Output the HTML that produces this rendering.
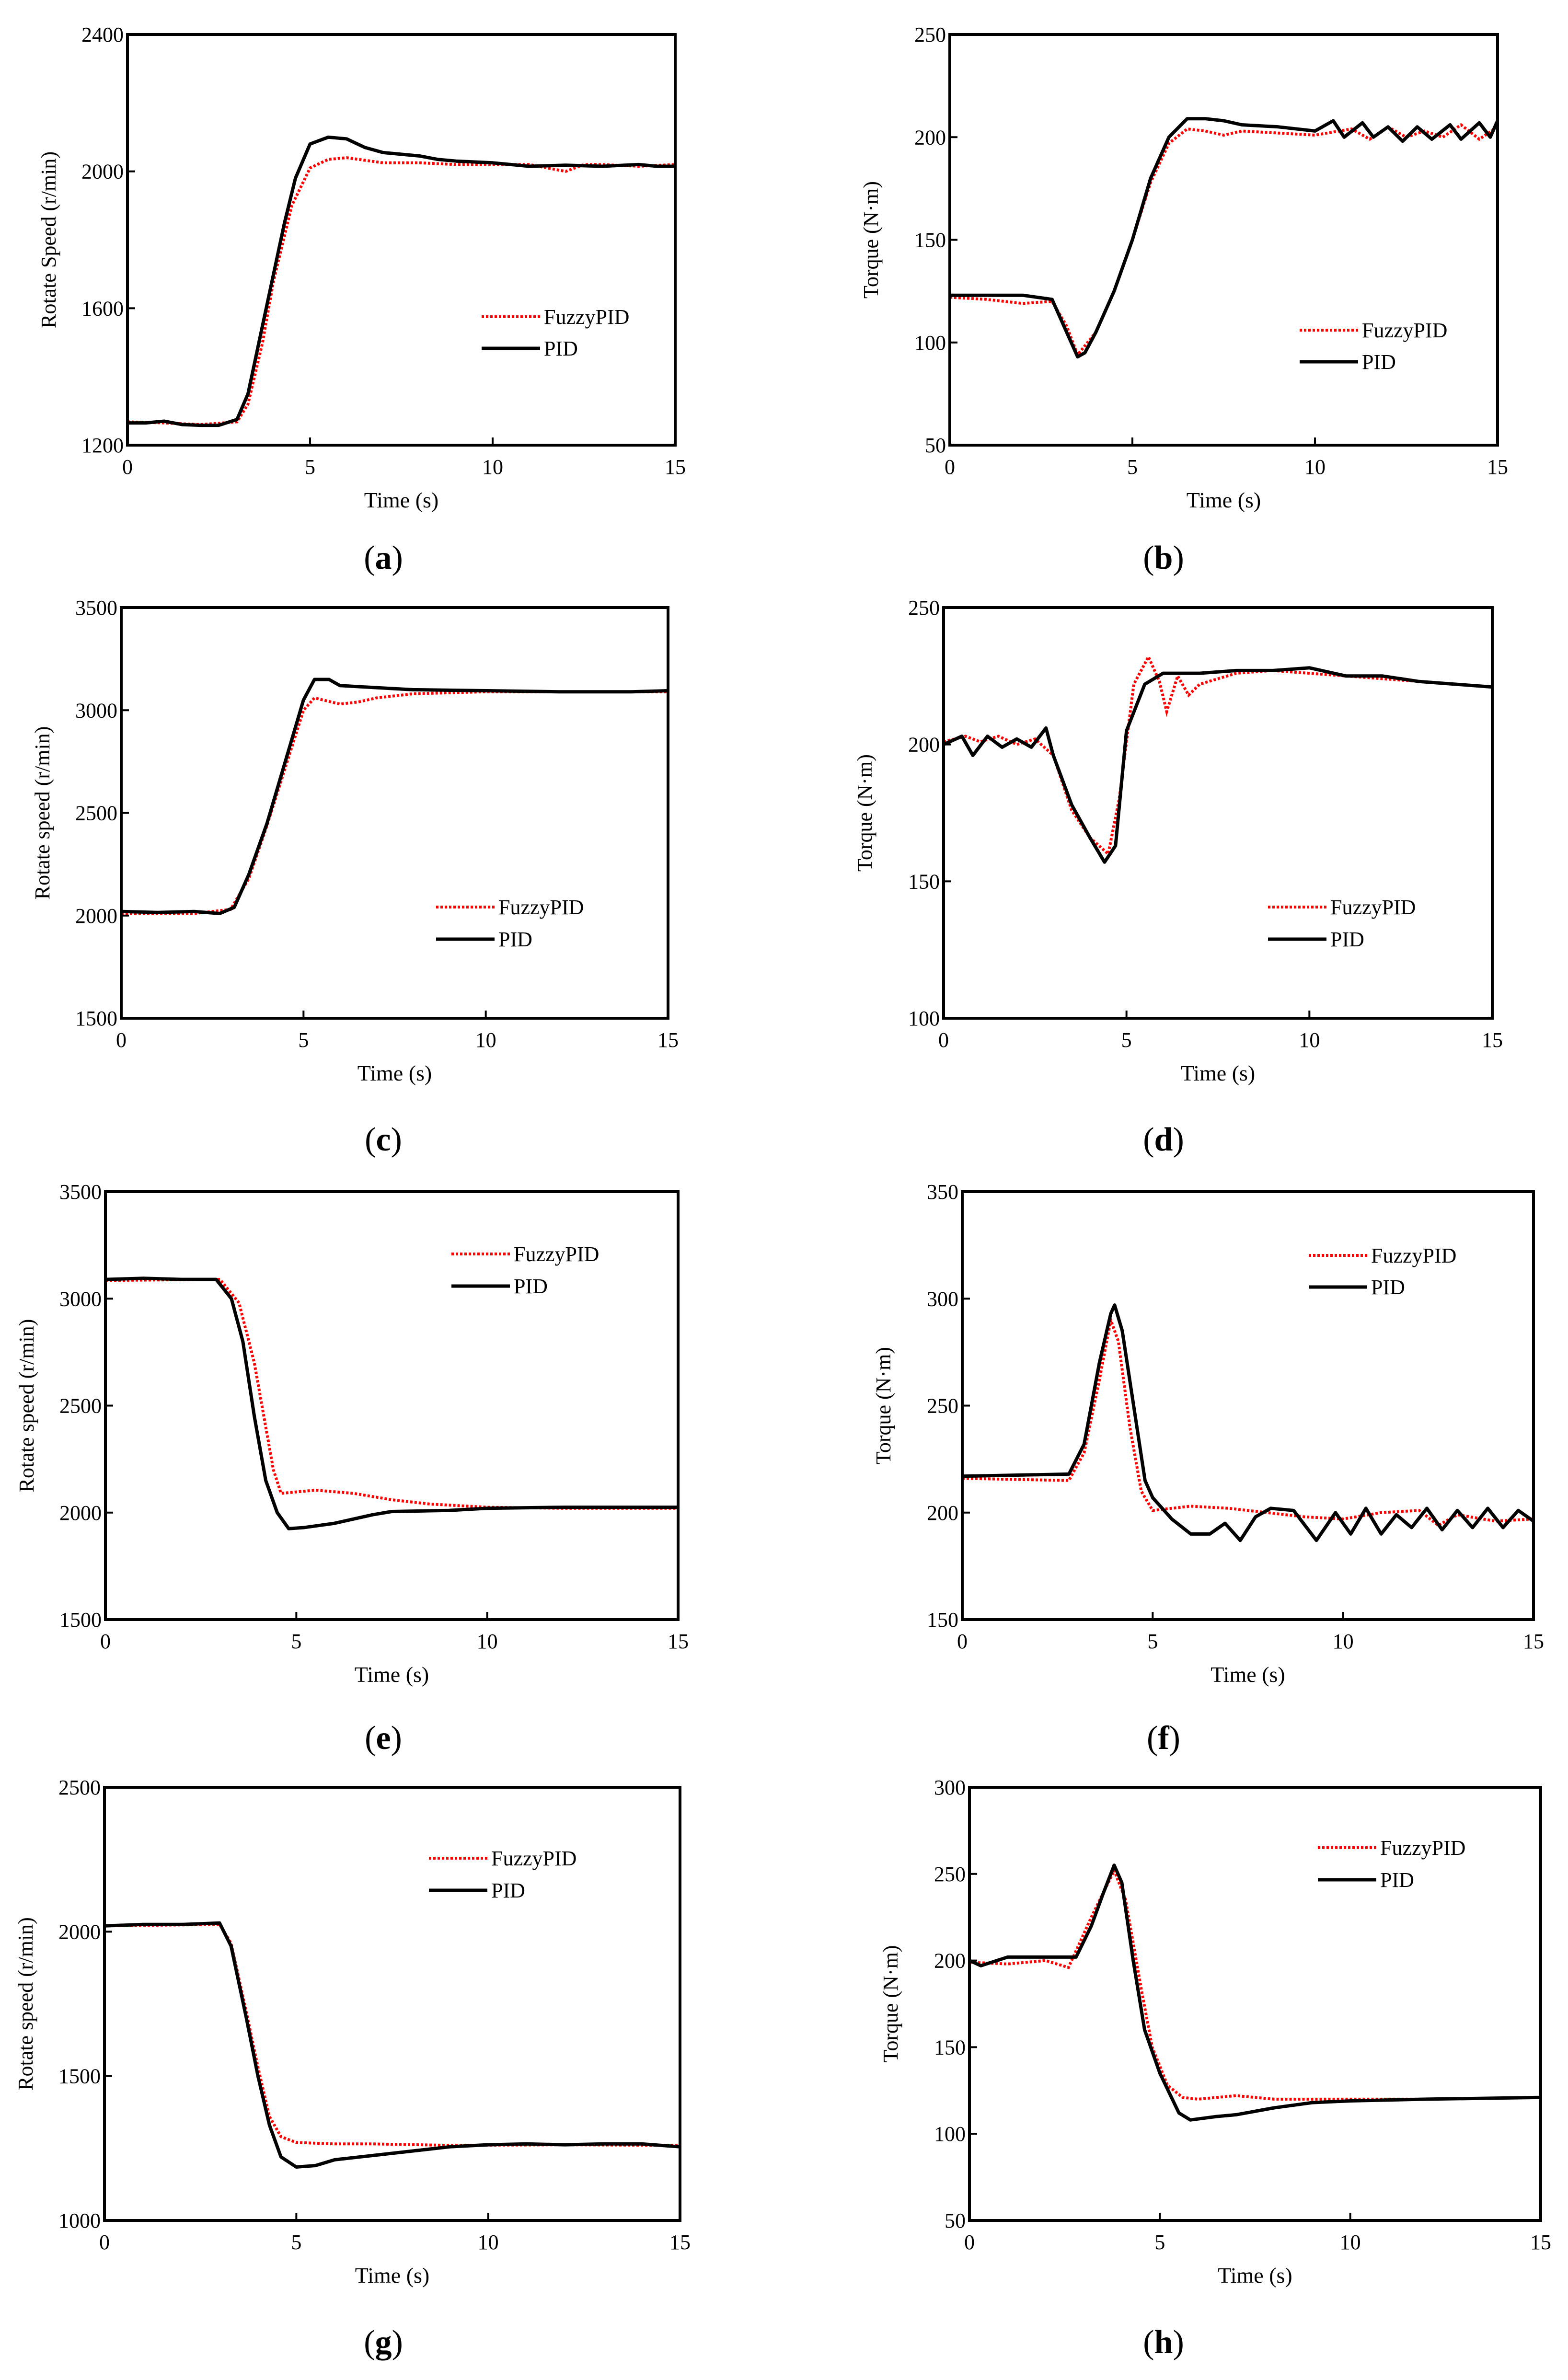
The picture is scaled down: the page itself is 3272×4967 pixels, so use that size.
<!DOCTYPE html>
<html><head><meta charset="utf-8"><style>
html,body{margin:0;padding:0;background:#fff}
svg{display:block}
text{font-family:"Liberation Serif",serif;fill:#000}
</style></head><body>
<svg id="fig" width="3272" height="4967" viewBox="0 0 3272 4967" xmlns="http://www.w3.org/2000/svg"></svg>
<script>
// ---- data ----
const aPidT=[0,0.5,1,1.5,2,2.5,3,3.3,3.7,4,4.3,4.6,5,5.5,6,6.5,7,8,8.5,9,10,11,12,13,14,14.5,15];
const aPidV=[1265,1265,1270,1260,1258,1258,1275,1350,1550,1700,1850,1980,2080,2100,2095,2070,2055,2045,2035,2030,2025,2015,2018,2015,2020,2015,2015];
const aFuzT=[0,1,2,3,3.3,3.7,4,4.5,5,5.5,6,7,8,9,10,11,12,12.5,13,14,15];
const aFuzV=[1268,1265,1260,1268,1320,1500,1680,1900,2010,2035,2040,2025,2025,2020,2020,2020,2000,2020,2020,2015,2020];
const bPidT=[0,1,2,2.8,3.2,3.5,3.7,4,4.5,5,5.5,6,6.5,7,7.5,8,9,10,10.5,10.8,11.3,11.6,12,12.4,12.8,13.2,13.7,14,14.5,14.8,15];
const bPidV=[123,123,123,121,105,93,95,105,125,150,180,200,209,209,208,206,205,203,208,200,207,200,205,198,205,199,206,199,207,200,208];
const bFuzT=[0,1,2,2.8,3.2,3.5,4,4.5,5,5.5,6,6.5,7,7.5,8,9,10,11,11.5,12,12.5,13,13.5,14,14.5,15];
const bFuzV=[122,121,119,120,108,94,105,125,150,178,197,204,203,201,203,202,201,204,199,205,200,203,200,206,199,205];
const cPidT=[0,1,2,2.7,3.1,3.5,4,4.5,5,5.3,5.7,6,7,8,10,12,14,15];
const cPidV=[2020,2015,2020,2010,2040,2200,2450,2750,3050,3150,3150,3120,3110,3100,3095,3090,3090,3095];
const cFuzT=[0,2,3,3.5,4,4.5,5,5.3,6,6.5,7,8,10,15];
const cFuzV=[2010,2010,2030,2180,2440,2720,3000,3060,3030,3040,3060,3080,3090,3090];
const dPidT=[0,0.5,0.8,1.2,1.6,2,2.4,2.8,3,3.5,4,4.4,4.7,5,5.5,6,7,8,9,10,11,12,13,14,15];
const dPidV=[200,203,196,203,199,202,199,206,196,178,166,157,163,205,222,226,226,227,227,228,225,225,223,222,221];
const dFuzT=[0,0.6,1,1.5,2,2.5,3,3.5,4,4.5,4.8,5.2,5.6,5.9,6.1,6.4,6.7,7,8,9,10,12,14,15];
const dFuzV=[201,203,201,203,200,202,196,176,166,160,180,222,232,223,212,225,218,222,226,227,226,224,222,221];
const ePidT=[0,1,2,2.9,3.3,3.6,3.9,4.2,4.5,4.8,5.2,6,7,7.5,9,10,12,15];
const ePidV=[3090,3095,3090,3090,3000,2800,2450,2150,2000,1925,1930,1950,1990,2005,2010,2020,2025,2025];
const eFuzT=[0,3,3.5,3.9,4.2,4.4,4.6,5.5,6.5,7.5,8.5,10,12,15];
const eFuzV=[3085,3090,2980,2700,2400,2200,2090,2105,2090,2060,2040,2025,2020,2020];
const fPidT=[0,2.8,3.2,3.6,3.9,4,4.2,4.5,4.8,5,5.5,6,6.5,6.9,7.3,7.7,8.1,8.7,9.3,9.8,10.2,10.6,11,11.4,11.8,12.2,12.6,13,13.4,13.8,14.2,14.6,15];
const fPidV=[217,218,232,270,293,297,285,250,215,207,197,190,190,195,187,198,202,201,187,200,190,202,190,199,193,202,192,201,193,202,193,201,196];
const fFuzT=[0,2.8,3.2,3.6,3.9,4.1,4.4,4.7,5,6,7,8,9,10,11,12,12.5,13,14,15];
const fFuzV=[216,215,228,262,290,280,240,210,201,203,202,200,198,197,200,201,194,199,196,197];
const gPidT=[0,1,2,3,3.3,3.7,4,4.3,4.6,5,5.5,6,7,8,9,10,11,12,13,14,15];
const gPidV=[2020,2025,2025,2030,1950,1700,1500,1330,1220,1185,1190,1210,1225,1240,1255,1262,1265,1262,1265,1265,1255];
const gFuzT=[0,3,3.3,3.7,4,4.3,4.6,5,6,7,9,12,15];
const gFuzV=[2020,2025,1960,1720,1530,1360,1290,1270,1265,1265,1260,1262,1260];
const hPidT=[0,0.3,1,2,2.8,3.2,3.5,3.8,4,4.3,4.6,5,5.5,5.8,6.5,7,8,9,10,12,15];
const hPidV=[200,197,202,202,202,220,238,255,245,200,160,135,112,108,110,111,115,118,119,120,121];
const hFuzT=[0,1,2,2.6,3.2,3.8,4.1,4.5,4.8,5.2,5.6,6,7,8,10,12,15];
const hFuzV=[199,198,200,196,225,252,235,185,150,128,121,120,122,120,120,120,121];
const aYTicks=[1200,1600,2000,2400];
const bYTicks=[50,100,150,200,250];
const cYTicks=[1500,2000,2500,3000,3500];
const dYTicks=[100,150,200,250];
const eYTicks=[1500,2000,2500,3000,3500];
const fYTicks=[150,200,250,300,350];
const gYTicks=[1000,1500,2000,2500];
const hYTicks=[50,100,150,200,250,300];
const xTicks=[0,5,10,15];

const NS="http://www.w3.org/2000/svg";
const svg=document.getElementById('fig');
function mk(tag,attrs,parent){const e=document.createElementNS(NS,tag);for(const k in attrs)e.setAttribute(k,attrs[k]);(parent||svg).appendChild(e);return e;}

function panel(id,box,yTicks,yTitle,pidT,pidV,fuzT,fuzV,leg,label,labelPos){
  const [L,T,R,B]=box;
  const g=mk('g',{});
  
  
  const y0=yTicks[0],y1=yTicks[yTicks.length-1];
  const sx=t=>L+(t-0)/(15-0)*(R-L);
  const sy=v=>B-(v-y0)/(y1-y0)*(B-T);
  // series
  const mkPath=(ts,vs)=>ts.map((t,i)=>(i?'L':'M')+sx(t).toFixed(1)+' '+sy(vs[i]).toFixed(1)).join(' ');
  const fz=mk('path',{d:mkPath(fuzT,fuzV),fill:'none',stroke:'#f00','stroke-width':6,'stroke-dasharray':'5 4'},g);
  
  
  const pd=mk('path',{d:mkPath(pidT,pidV),fill:'none',stroke:'#000','stroke-width':7,'stroke-linejoin':'round'},g);
  
  
  // frame
  const fr=mk('rect',{x:L,y:T,width:R-L,height:B-T,fill:'none',stroke:'#000','stroke-width':6},g);
  
  
  // x ticks
  xTicks.forEach(t=>{
    mk('line',{x1:sx(t),x2:sx(t),y1:B,y2:B-16,stroke:'#000','stroke-width':4},g);
    const tx=mk('text',{x:sx(t),y:B+60,'font-size':44,'text-anchor':'middle'},g);
    tx.textContent=t;
    
    
  });
  yTicks.forEach(v=>{
    mk('line',{x1:L,x2:L+16,y1:sy(v),y2:sy(v),stroke:'#000','stroke-width':4},g);
    const tx=mk('text',{x:L-8,y:sy(v)+15,'font-size':44,'text-anchor':'end'},g);
    tx.textContent=v;
    
    
  });
  const xt=mk('text',{x:(L+R)/2,y:B+130,'font-size':46,'text-anchor':'middle'},g);
  xt.textContent='Time (s)';
  
  
  const yx=L-150,yy=(T+B)/2;
  const yt=mk('text',{x:yx,y:yy,'font-size':44,'text-anchor':'middle',transform:`rotate(-90 ${yx} ${yy})`},g);
  yt.textContent=yTitle;
  
  
  // legend
  const [lx,ly1,ly2]=leg;
  mk('line',{x1:lx,x2:lx+122,y1:ly1,y2:ly1,stroke:'#f00','stroke-width':6,'stroke-dasharray':'5 4'},g);
  const l1=mk('text',{x:lx+130,y:ly1+15,'font-size':44},g);
  l1.textContent='FuzzyPID';
  
  
  mk('line',{x1:lx,x2:lx+122,y1:ly2,y2:ly2,stroke:'#000','stroke-width':7},g);
  const l2=mk('text',{x:lx+130,y:ly2+15,'font-size':44},g);
  l2.textContent='PID';
  
  
  // subfig label
  const sl=mk('text',{x:labelPos[0],y:labelPos[1]+24,'font-size':70,'text-anchor':'middle'},g);
  sl.innerHTML='(<tspan font-weight="bold">'+label+'</tspan>)';
  
  
}
panel('a',[266,72,1409,929],aYTicks,'Rotate Speed (r/min)',aPidT,aPidV,aFuzT,aFuzV,[1005,661,727],'a',[800,1163]);
panel('b',[1982,72,3125,929],bYTicks,'Torque (N·m)',bPidT,bPidV,bFuzT,bFuzV,[2712,689,755],'b',[2428,1163]);
panel('c',[253,1268,1394,2125],cYTicks,'Rotate speed (r/min)',cPidT,cPidV,cFuzT,cFuzV,[910,1893,1960],'c',[800,2377]);
panel('d',[1969,1268,3114,2125],dYTicks,'Torque (N·m)',dPidT,dPidV,dFuzT,dFuzV,[2646,1893,1960],'d',[2428,2377]);
panel('e',[220,2487,1415,3380],eYTicks,'Rotate speed (r/min)',ePidT,ePidV,eFuzT,eFuzV,[942,2617,2684],'e',[800,3626]);
panel('f',[2008,2487,3200,3380],fYTicks,'Torque (N·m)',fPidT,fPidV,fFuzT,fFuzV,[2731,2620,2686],'f',[2428,3626]);
panel('g',[218,3730,1419,4634],gYTicks,'Rotate speed (r/min)',gPidT,gPidV,gFuzT,gFuzV,[895,3878,3945],'g',[800,4887]);
panel('h',[2023,3730,3215,4634],hYTicks,'Torque (N·m)',hPidT,hPidV,hFuzT,hFuzV,[2750,3856,3923],'h',[2428,4887]);
</script>
</body></html>
